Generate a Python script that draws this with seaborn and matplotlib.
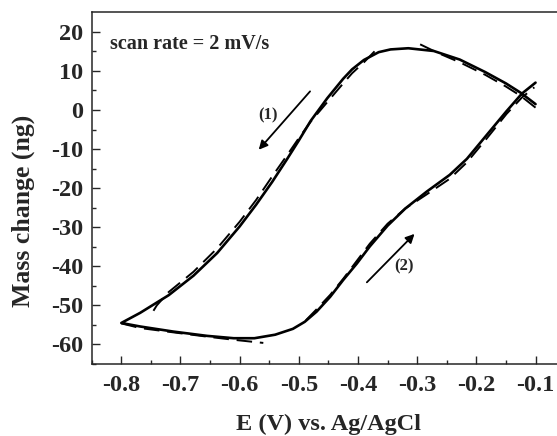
import numpy as np
import pandas as pd
import matplotlib
matplotlib.use("Agg")
import matplotlib.pyplot as plt
import seaborn as sns

# measured loop (solid): scan (1) from -0.1 V down to -0.8 V, then scan (2) back up
meas_E = [-0.100, -0.125, -0.150, -0.185, -0.228, -0.272, -0.315, -0.345, -0.365,
          -0.390, -0.410, -0.425, -0.452, -0.480, -0.500, -0.520, -0.545, -0.572,
          -0.600, -0.638, -0.678, -0.720, -0.768, -0.800,
          -0.768, -0.712, -0.655, -0.610, -0.575, -0.540, -0.510, -0.490, -0.470,
          -0.447, -0.425, -0.402, -0.380, -0.350, -0.320, -0.284, -0.245, -0.216,
          -0.182, -0.149, -0.123, -0.100]
meas_m = [1.5, 4.4, 6.8, 9.7, 12.9, 15.1, 15.8, 15.5, 14.8,
          12.8, 10.4, 8.0, 3.0, -2.8, -7.8, -12.6, -18.4, -24.2,
          -29.8, -36.6, -42.4, -47.4, -51.9, -54.5,
          -55.4, -56.7, -57.8, -58.4, -58.4, -57.5, -56.0, -54.2, -51.6,
          -47.8, -43.5, -39.3, -34.9, -29.6, -25.2, -20.9, -16.6, -12.5,
          -6.3, -0.3, 4.2, 7.0]

# simulated curve (dashed), in four pieces
sim1_E = [-0.100, -0.125, -0.150, -0.185, -0.228, -0.265, -0.295]
sim1_m = [0.6, 3.6, 6.0, 9.0, 12.2, 14.6, 16.8]
sim2_E = [-0.372, -0.390, -0.410, -0.425, -0.452, -0.480, -0.500, -0.520, -0.545,
          -0.572, -0.600, -0.638, -0.678, -0.720, -0.740, -0.751]
sim2_m = [15.0, 12.2, 9.4, 6.8, 2.0, -3.0, -7.2, -11.6, -17.0,
          -23.0, -28.6, -35.4, -41.4, -46.6, -50.0, -52.7]
sim3_E = [-0.800, -0.768, -0.712, -0.655, -0.610, -0.560]
sim3_m = [-54.6, -55.8, -56.9, -58.0, -58.8, -59.6]
sim4_E = [-0.488, -0.470, -0.447, -0.425, -0.402, -0.380, -0.350, -0.320, -0.284,
          -0.245, -0.216, -0.182, -0.149, -0.123, -0.102]
sim4_m = [-53.8, -51.0, -47.3, -43.2, -38.6, -34.2, -29.1, -25.2, -21.6,
          -17.6, -13.4, -7.2, -1.0, 3.2, 5.8]

meas = pd.DataFrame({"E": meas_E, "m": meas_m})
sim = pd.concat([
    pd.DataFrame({"E": sim1_E, "m": sim1_m, "seg": 1}),
    pd.DataFrame({"E": sim2_E, "m": sim2_m, "seg": 2}),
    pd.DataFrame({"E": sim3_E, "m": sim3_m, "seg": 3}),
    pd.DataFrame({"E": sim4_E, "m": sim4_m, "seg": 4}),
])

sns.set_style("ticks")
plt.rcParams['font.family'] = ['Liberation Serif', 'DejaVu Serif']
plt.rcParams['font.weight'] = 'bold'
plt.rcParams['axes.labelweight'] = 'bold'
plt.rcParams['xtick.direction'] = 'in'
plt.rcParams['ytick.direction'] = 'in'

fig = plt.figure(figsize=(5.57, 4.36), dpi=100)
ax = fig.add_axes([0.1646, 0.1651, 0.85, 0.8067])

sns.lineplot(data=meas, x="E", y="m", sort=False, estimator=None,
             color="black", linewidth=1.9, ax=ax)
n_solid = len(ax.lines)
sns.lineplot(data=sim, x="E", y="m", units="seg", sort=False, estimator=None,
             color="black", linewidth=1.4, ax=ax)
# dashed style for the simulated curve
for ln in ax.lines[n_solid:]:
    ln.set_dashes([8, 4])

ax.set_xlim(-0.8495, -0.05)
ax.set_ylim(-65, 25)
ax.set_xticks(np.arange(-0.8, -0.05, 0.1))
ax.set_xticklabels(["-0.8", "-0.7", "-0.6", "-0.5", "-0.4", "-0.3", "-0.2", "-0.1"])
ax.set_yticks(np.arange(-60, 21, 10))
ax.set_yticklabels(["-60", "-50", "-40", "-30", "-20", "-10", "0", "10", "20"])
ax.set_xticks(np.arange(-0.85, -0.05, 0.05), minor=True)
ax.set_yticks(np.arange(-65, 25, 5), minor=True)
ax.tick_params(which="both", direction="in", top=False, right=False, width=1.0)
ax.tick_params(axis="x", which="major", length=6, labelsize=17.5, pad=8)
ax.tick_params(axis="y", which="major", length=6, labelsize=17.5, pad=6)
ax.tick_params(which="minor", length=3)
for s in ax.spines.values():
    s.set_linewidth(1.1)

ax.set_xlabel("")
ax.set_ylabel("")
fig.text(0.589, 0.027, "E (V) vs. Ag/AgCl", ha="center", va="center",
         fontsize=17.5, fontweight="bold")
fig.text(0.041, 0.516, "Mass change (ng)", ha="center", va="center",
         rotation=90, fontsize=18.5, fontweight="bold")

ax.text(-0.8186, 17.0, "scan rate = 2 mV/s", ha="left", va="center",
        fontsize=14.5, fontweight="bold")

ax.annotate("", xy=(-0.5708, -10.7), xytext=(-0.4779, 5.3),
            arrowprops=dict(arrowstyle="-|>", color="black", lw=1.3,
                            mutation_scale=13))
ax.text(-0.5517, -1.3, "(1)", ha="center", va="center", fontsize=12,
        fontweight="bold")
ax.annotate("", xy=(-0.3012, -31.2), xytext=(-0.3883, -44.6),
            arrowprops=dict(arrowstyle="-|>", color="black", lw=1.3,
                            mutation_scale=13))
ax.text(-0.3222, -40.1, "(2)", ha="center", va="center", fontsize=12,
        fontweight="bold")

fig.savefig("out.png", dpi=100)
